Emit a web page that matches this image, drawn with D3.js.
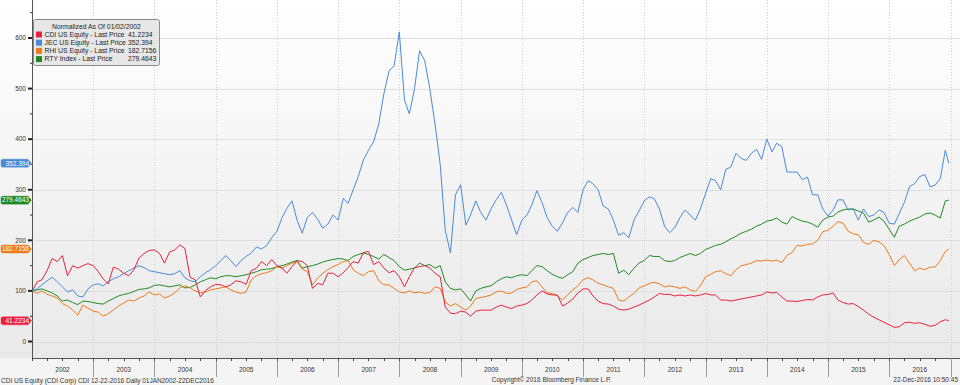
<!DOCTYPE html>
<html>
<head>
<meta charset="utf-8">
<script src="https://cdn.jsdelivr.net/npm/d3@7"></script>
<style>
  body { margin: 0; background: #f3f3f3; }
  svg { display: block; font-family: "Liberation Sans", Arial, sans-serif; }
</style>
</head>
<body>
<div id="container"></div>
<script>
// set the dimensions of the canvas
var width = 960;
var height = 385;
var plotLeft = 32;
var axisY = 358;

//-----------------------------DATA------------------------------//
// monthly closes, normalized to 100 on 01/02/2002, last point = 22 Dec 2016
var cdi = [
  100, 118, 122, 140, 164, 158, 170, 130, 150, 145, 150, 154,
  150, 138, 124, 114, 147, 143, 135, 130, 142, 165, 174, 180,
  181, 174, 155, 177, 181, 191, 184, 127, 122, 88, 101, 108,
  113, 112, 108, 112, 120, 118, 113, 140, 145, 158, 150, 162,
  150, 145, 135, 148, 160, 158, 150, 105, 115, 112, 135, 135,
  128, 136, 146, 158, 155, 176, 178, 152, 158, 145, 136, 140,
  128, 108, 128, 146, 148, 150, 145, 135, 128, 68, 56, 55,
  60, 58, 50, 60, 62, 62, 62, 68, 72, 68, 65, 70,
  72, 75, 82, 92, 100, 94, 92, 92, 70, 76, 84, 96,
  104, 104, 90, 80, 75, 74, 70, 64, 62, 64, 68, 72,
  77, 82, 88, 95, 93, 93, 90, 92, 90, 92, 90, 92,
  95, 92, 92, 82, 82, 80, 82, 84, 86, 88, 90, 92,
  98, 96, 97, 88, 80, 80, 79, 81, 83, 82, 88, 92,
  93, 96, 82, 77, 74, 75, 69, 62, 54, 48, 43, 38,
  33, 28, 29, 37, 38, 36, 37, 34, 30, 32, 39, 43,
  41.2234
];
var jec = [
  100, 104, 112, 120, 127, 118, 108, 98, 102, 90, 88, 104,
  112, 114, 110, 118, 124, 128, 134, 140, 145, 150, 146, 140,
  138, 136, 134, 132, 134, 140, 126, 120, 118, 128, 136, 142,
  150, 160, 170, 160, 148, 160, 168, 175, 187, 183, 190, 205,
  218, 245, 263, 278, 240, 214, 245, 255, 242, 224, 232, 250,
  240, 283, 273, 300, 326, 359, 378, 395, 431, 490, 535, 545,
  612, 477, 450, 500, 575, 555, 500, 430, 350, 220, 175, 290,
  310, 230, 250, 278, 255, 240, 262, 280, 295, 270, 240, 211,
  240, 250, 270, 298, 275, 245, 228, 218, 235, 255, 265, 255,
  300, 318, 312, 300, 268, 262, 240, 210, 215, 205, 240, 258,
  278, 286, 282, 262, 228, 215, 225, 245, 260, 250, 240, 262,
  293, 322, 318, 300, 340, 345, 372, 362, 358, 372, 380, 360,
  400, 375, 392, 385, 335, 335, 335, 320, 325, 290, 290, 262,
  248, 260, 280, 280, 260, 262, 240, 262, 247, 250, 260, 255,
  234, 232, 253, 275, 306, 312, 326, 330, 306, 309, 322, 378,
  352.394
];
var rhi = [
  100, 95, 100, 93, 90, 86, 75, 70, 62, 52, 72, 66,
  60, 58, 50, 55, 62, 70, 76, 82, 80, 86, 90, 98,
  92, 94, 86, 90, 96, 106, 110, 106, 100, 96, 98, 102,
  104, 106, 108, 102, 98, 95, 98, 122, 130, 134, 136, 140,
  148, 145, 150, 155, 158, 143, 138, 112, 125, 135, 142, 148,
  152, 158, 160, 142, 135, 130, 138, 140, 120, 112, 112, 105,
  98, 96, 100, 96, 98, 95, 97, 108, 105, 78, 70, 75,
  68, 62, 70, 85, 87, 89, 92, 98, 100, 95, 96, 103,
  106, 108, 118, 120, 108, 96, 95, 90, 82, 92, 102, 110,
  122, 126, 122, 115, 112, 108, 105, 82, 80, 88, 95, 106,
  110, 115, 117, 114, 108, 110, 108, 105, 108, 102, 99, 110,
  128, 133, 138, 140, 134, 130, 142, 150, 152, 155, 160, 159,
  161, 159, 161, 156, 170, 176, 190, 189, 192, 193, 200, 217,
  220, 228, 237, 234, 218, 213, 211, 196, 192, 200, 197, 190,
  172, 150, 162, 170, 155, 140, 145, 142, 147, 147, 160, 178,
  182.7156
];
var rty = [
  100, 102, 104, 100, 96, 90, 80, 82, 77, 73, 80, 79,
  77, 75, 74, 80, 85, 90, 93, 95, 99, 103, 104, 106,
  111, 112, 110, 108, 110, 112, 106, 107, 112, 118, 122, 126,
  124, 128, 130, 130, 128, 130, 132, 135, 138, 142, 143, 144,
  148, 150, 153, 157, 160, 145, 148, 150, 153, 157, 160, 162,
  164, 163, 160, 168, 172, 175, 172, 168, 163, 172, 166, 160,
  148, 141, 143, 145, 155, 150, 152, 145, 150, 118, 105, 102,
  104, 92, 80, 100, 105, 108, 110, 118, 124, 128, 126, 130,
  132, 130, 140, 150, 148, 140, 133, 128, 125, 132, 138, 155,
  162, 166, 170, 172, 174, 172, 174, 135, 141, 132, 145, 155,
  160, 170, 168, 168, 160, 158, 160, 166, 170, 174, 170, 174,
  182, 186, 190, 192, 197, 203, 208, 214, 218, 222, 228, 232,
  238, 240, 244, 236, 232, 247, 242, 238, 236, 232, 226, 240,
  246, 248, 256, 260, 262, 262, 258, 254, 236, 240, 246, 238,
  222, 206, 228, 232, 238, 242, 246, 252, 254, 250, 244, 278,
  279.4643
];

var seriesNames = ["CDI US Equity - Last Price", "JEC US Equity - Last Price", "RHI US Equity - Last Price", "RTY Index - Last Price"];
var lastLabels = ["41.2234", "352.394", "182.7156", "279.4643"];
var seriesColors = ["#e8213f", "#4a8ad6", "#ec7a1a", "#1f8a22"];
var yearLabels = ["2002", "2003", "2004", "2005", "2006", "2007", "2008", "2009", "2010", "2011", "2012", "2013", "2014", "2015", "2016"];
var yTicks = [0, 100, 200, 300, 400, 500, 600];

// one date per month, the first is the normalization day, the last is 22 Dec 2016
var dates = d3.timeMonth.range(new Date(2002, 0, 1), new Date(2017, 0, 1));
dates[0] = new Date(2002, 0, 2);
dates.push(new Date(2016, 11, 22));

var slices = [cdi, jec, rhi, rty].map(function (vals, i) {
    return {
        name: seriesNames[i],
        label: lastLabels[i],
        color: seriesColors[i],
        values: vals.map(function (v, j) { return { date: dates[j], value: v }; })
    };
});

//----------------------------SCALES-----------------------------//
var xScale = d3.scaleTime()
    .domain([new Date(2002, 0, 1), new Date(2017, 0, 1)])
    .range([plotLeft, 950.5]);

var yScale = d3.scaleLinear()
    .domain([0, 600])
    .range([341.5, 38]);

var svg = d3.select("div#container").append("svg")
    .attr("width", width)
    .attr("height", height);

var defs = svg.append("defs");
var grad = defs.append("linearGradient")
    .attr("id", "bg")
    .attr("x1", 0).attr("y1", 0).attr("x2", 0).attr("y2", 1);
grad.append("stop").attr("offset", "0%").attr("stop-color", "#ffffff");
grad.append("stop").attr("offset", "100%").attr("stop-color", "#e9e9e9");

svg.append("rect")
    .attr("width", width)
    .attr("height", axisY)
    .attr("fill", "url(#bg)");

svg.append("rect")
    .attr("y", axisY)
    .attr("width", width)
    .attr("height", height - axisY)
    .attr("fill", "#f4f4f4");

//-----------------------------GRID------------------------------//
svg.append("g").selectAll("line")
    .data(yTicks)
    .enter().append("line")
    .attr("x1", plotLeft).attr("x2", width)
    .attr("y1", function (d) { return Math.round(yScale(d)) + 0.5; })
    .attr("y2", function (d) { return Math.round(yScale(d)) + 0.5; })
    .style("stroke", "#dedede");

var yearStarts = d3.timeYear.range(new Date(2003, 0, 1), new Date(2018, 0, 1));

svg.append("g").selectAll("line")
    .data(yearStarts)
    .enter().append("line")
    .attr("x1", function (d) { return Math.round(xScale(d)) + 0.5; })
    .attr("x2", function (d) { return Math.round(xScale(d)) + 0.5; })
    .attr("y1", 0).attr("y2", axisY)
    .style("stroke", "#cfcfcf")
    .style("stroke-dasharray", "1,2");

//----------------------------LINES------------------------------//
var line = d3.line()
    .x(function (d) { return xScale(d.date); })
    .y(function (d) { return yScale(d.value); });

svg.append("g").selectAll("path")
    .data(slices.slice().reverse())
    .enter().append("path")
    .attr("d", function (d) { return line(d.values); })
    .style("fill", "none")
    .style("stroke", function (d) { return d.color; })
    .style("stroke-width", 1);

//-----------------------------AXES------------------------------//
svg.append("line")
    .attr("x1", plotLeft + 0.5).attr("x2", plotLeft + 0.5)
    .attr("y1", 0).attr("y2", axisY)
    .style("stroke", "#555");

svg.append("line")
    .attr("x1", plotLeft).attr("x2", width)
    .attr("y1", axisY + 0.5).attr("y2", axisY + 0.5)
    .style("stroke", "#555");

// y ticks
var yAxis = svg.append("g");
yAxis.selectAll(".major")
    .data(yTicks)
    .enter().append("line")
    .attr("x1", 28).attr("x2", plotLeft)
    .attr("y1", function (d) { return yScale(d); })
    .attr("y2", function (d) { return yScale(d); })
    .style("stroke", "#222")
    .style("stroke-width", 2);

yAxis.selectAll(".minor")
    .data(d3.range(50, 700, 100))
    .enter().append("line")
    .attr("x1", 30).attr("x2", plotLeft)
    .attr("y1", function (d) { return yScale(d); })
    .attr("y2", function (d) { return yScale(d); })
    .style("stroke", "#333")
    .style("stroke-width", 1);

yAxis.selectAll("text")
    .data(yTicks)
    .enter().append("text")
    .attr("x", 26)
    .attr("y", function (d) { return yScale(d); })
    .attr("dy", "0.35em")
    .style("text-anchor", "end")
    .style("font-size", "6.5px")
    .style("fill", "#333")
    .text(function (d) { return d; });

// x ticks
var xAxis = svg.append("g");
xAxis.selectAll(".sep")
    .data(yearStarts)
    .enter().append("line")
    .attr("x1", function (d) { return Math.round(xScale(d)) + 0.5; })
    .attr("x2", function (d) { return Math.round(xScale(d)) + 0.5; })
    .attr("y1", axisY).attr("y2", 377)
    .style("stroke", "#9a9a9a");

xAxis.selectAll(".q")
    .data(d3.timeMonth.every(3).range(new Date(2002, 0, 1), new Date(2017, 0, 1)))
    .enter().append("line")
    .attr("x1", function (d) { return Math.round(xScale(d)) + 0.5; })
    .attr("x2", function (d) { return Math.round(xScale(d)) + 0.5; })
    .attr("y1", axisY).attr("y2", axisY + 3)
    .style("stroke", "#444");

xAxis.selectAll("text")
    .data(yearLabels)
    .enter().append("text")
    .attr("x", function (d) { return xScale(new Date(+d, 6, 2)); })
    .attr("y", 372)
    .style("text-anchor", "middle")
    .style("font-size", "6.5px")
    .style("fill", "#333")
    .text(function (d) { return d; });

//----------------------------TAGS-------------------------------//
var tags = svg.append("g").selectAll("g")
    .data(slices)
    .enter().append("g")
    .attr("transform", function (d) {
        return "translate(0," + yScale(d.values[d.values.length - 1].value) + ")";
    });

tags.append("path")
    .attr("d", "M3,-4.5 L28,-4.5 L32,0 L28,4.5 L3,4.5 Q0.5,4.5 0.5,2 L0.5,-2 Q0.5,-4.5 3,-4.5 Z")
    .style("fill", function (d) { return d.color; })
    .style("stroke", "#fff")
    .style("stroke-width", 0.5);

tags.append("text")
    .attr("x", 29)
    .attr("dy", "0.35em")
    .style("text-anchor", "end")
    .style("font-size", "6.5px")
    .style("fill", "#fff")
    .text(function (d) { return d.label; });

//----------------------------LEGEND-----------------------------//
var legend = svg.append("g");
legend.append("rect")
    .attr("x", 33.5).attr("y", 19.5)
    .attr("width", 126).attr("height", 46)
    .attr("rx", 2)
    .style("fill", "#e7e7e7")
    .style("stroke", "#8c8c8c");

legend.append("text")
    .attr("x", 96.5).attr("y", 29)
    .style("text-anchor", "middle")
    .style("font-size", "6.8px")
    .style("fill", "#222")
    .text("Normalized As Of 01/02/2002");

var rows = legend.selectAll(".row")
    .data(slices)
    .enter().append("g")
    .attr("transform", function (d, i) { return "translate(0," + (34.5 + i * 8.2) + ")"; });

rows.append("rect")
    .attr("x", 36).attr("y", -3)
    .attr("width", 6).attr("height", 6)
    .style("fill", function (d) { return d.color; });

rows.append("text")
    .attr("x", 44.5).attr("dy", "0.35em")
    .style("font-size", "6.8px")
    .style("fill", "#222")
    .text(function (d) { return d.name; });

rows.append("text")
    .attr("x", 128).attr("dy", "0.35em")
    .style("font-size", "6.8px")
    .style("fill", "#222")
    .text(function (d) { return d.label; });

//----------------------------FOOTER-----------------------------//
svg.append("text")
    .attr("x", 1).attr("y", 383)
    .style("font-size", "6.5px")
    .style("fill", "#333")
    .text("CDI US Equity (CDI Corp) CDI 12-22-2016  Daily 01JAN2002-22DEC2016");

svg.append("text")
    .attr("x", 551.5).attr("y", 382)
    .style("text-anchor", "middle")
    .style("font-size", "6.5px")
    .style("fill", "#333")
    .text("Copyright\u00a9 2016 Bloomberg Finance L.P.");

svg.append("text")
    .attr("x", 958).attr("y", 382)
    .style("text-anchor", "end")
    .style("font-size", "6.5px")
    .style("fill", "#333")
    .text("22-Dec-2016 10:50:45");
</script>
</body>
</html>
